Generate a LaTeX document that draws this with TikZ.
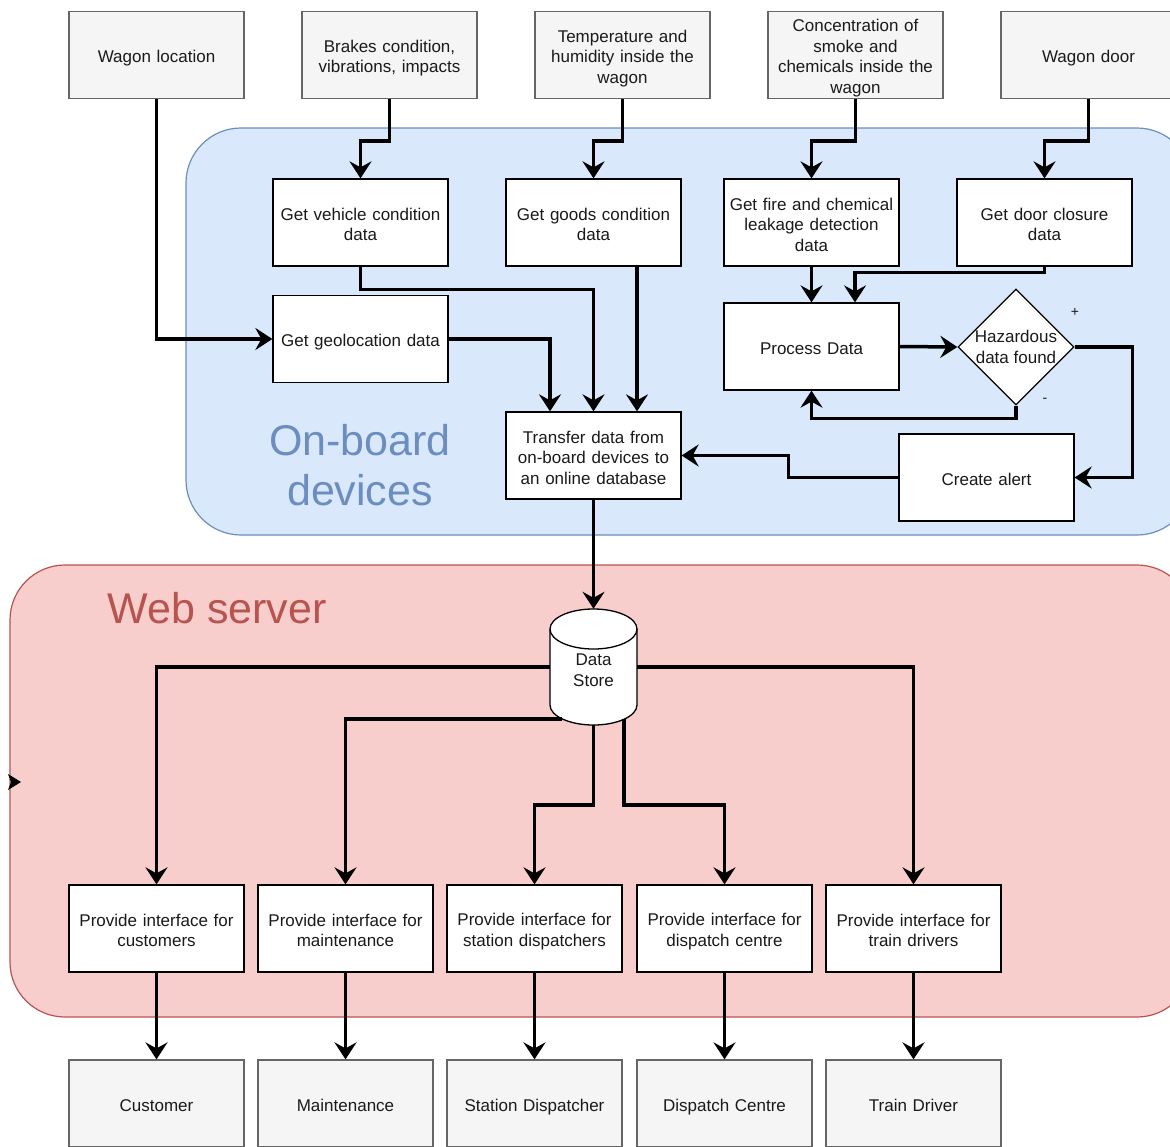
\documentclass[tikz,border=0pt]{standalone}
\usepackage{fontspec}
\setmainfont{Liberation Sans}
\usetikzlibrary{arrows.meta,shapes.geometric}
\definecolor{obfill}{HTML}{DAE8FC}
\definecolor{obline}{HTML}{6C8EBF}
\definecolor{wsfill}{HTML}{F8CECC}
\definecolor{wsline}{HTML}{B85450}
\definecolor{srcfill}{HTML}{F5F5F5}
\definecolor{srcline}{HTML}{666666}
\definecolor{ink}{HTML}{1A1A1A}

\begin{document}
\begin{tikzpicture}[x=1pt,y=-1pt,
  plain text/.style={text=ink, font=\fontsize{17pt}{20.5pt}\selectfont},
  label text/.style={plain text,
    execute at begin node=\rule{0pt}{19pt},
    execute at end node=\rule[-3pt]{0pt}{3pt}},
  base/.style={rectangle, minimum width=175pt, minimum height=87pt,
    text width=172pt, align=center, inner sep=0pt, label text},
  srcbox/.style={base, fill=srcfill, draw=srcline, line width=1.2pt},
  procbox/.style={base, fill=white, draw=black, line width=1.3pt},
  decision/.style={diamond, aspect=1, minimum width=116pt, minimum height=116pt,
    inner sep=0pt, fill=white, draw=black, line width=1.3pt, align=center, plain text},
  flow/.style={line width=3.5pt, -{Stealth[length=17pt,width=22pt,inset=6pt]}},
  area/.style={line width=1.2pt, rounded corners=55pt},
  title/.style={font=\fontsize{43pt}{50pt}\selectfont, align=center},
  sign/.style={font=\fontsize{14pt}{16pt}\selectfont, text=ink, inner sep=0pt}
]
\useasboundingbox (0,0) rectangle (1170,1146);
\clip (0,0) rectangle (1170,1146);

% background areas
\draw[area, fill=obfill, draw=obline] (186,128) rectangle (1192,535);
\draw[area, fill=wsfill, draw=wsline] (10,565) rectangle (1192,1017);
\node[title, text=obline] (obtitle) at (360,465) {On-board\\devices};
\node[title, text=wsline] (wstitle) at (217,608) {Web server};

% stray arrow tip on the left edge
\fill[black] (8,774) -- (21,782) -- (8,790) -- (11,782) -- cycle;

% sources
\node[srcbox] (wloc)  at (156.5,55) {Wagon location};
\node[srcbox] (brake) at (389.5,55) {Brakes condition,\\vibrations, impacts};
\node[srcbox] (temp)  at (622.5,55) {Temperature and\\humidity inside the\\wagon};
\node[srcbox] (smoke) at (855.5,55) {Concentration of\\smoke and\\chemicals inside the\\wagon};
\node[srcbox] (wdoor) at (1088.5,55) {Wagon door};

% on-board processes
\node[procbox] (veh)   at (360.5,222.5) {Get vehicle condition\\data};
\node[procbox] (goods) at (593.5,222.5) {Get goods condition\\data};
\node[procbox] (fire)  at (811.5,222.5) {Get fire and chemical\\leakage detection\\data};
\node[procbox] (door)  at (1044.5,222.5) {Get door closure\\data};
\node[procbox] (geo)   at (360.5,339) {Get geolocation data};
\node[procbox] (proc)  at (811.5,346.5) {Process Data};
\node[decision] (haz)  at (1016,347) {Hazardous\\data found};
\node[procbox] (alert) at (986.5,477.5) {Create alert};
\node[procbox] (xfer)  at (593.5,455.5) {Transfer data from\\on-board devices to\\an online database};
\node[sign] (plus)  at (1075,312) {+};
\node[sign] (minus) at (1045,400) {-};

% data store cylinder
\filldraw[fill=white, draw=black, line width=1.3pt]
  (550,629) -- (550,705) arc(180:360:43.5pt and 20pt) -- (637,629)
  arc(0:180:43.5pt and 20pt) -- cycle;
\draw[black, line width=1.3pt] (550,629) arc(180:360:43.5pt and 20pt);
\node[minimum width=87pt, minimum height=116pt, inner sep=0pt] (store) at (593.5,667) {};
\node[align=center, inner sep=0pt, plain text] (storetext) at (593.5,670) {Data\\Store};
\coordinate (sleft) at (562,719);
\coordinate (sright) at (624,719);

% interfaces
\node[procbox] (icust)  at (156.5,928.5) {Provide interface for\\customers};
\node[procbox] (imaint) at (345.5,928.5) {Provide interface for\\maintenance};
\node[procbox] (isd)    at (534.5,928.5) {Provide interface for\\station dispatchers};
\node[procbox] (idc)    at (724.5,928.5) {Provide interface for\\dispatch centre};
\node[procbox] (itd)    at (913.5,928.5) {Provide interface for\\train drivers};

% users
\node[srcbox] (ucust)  at (156.5,1103.5) {Customer};
\node[srcbox] (umaint) at (345.5,1103.5) {Maintenance};
\node[srcbox] (usd)    at (534.5,1103.5) {Station Dispatcher};
\node[srcbox] (udc)    at (724.5,1103.5) {Dispatch Centre};
\node[srcbox] (utd)    at (913.5,1103.5) {Train Driver};

% source connectors
\draw[flow] (wloc.south) |- (geo.west);
\draw[flow] (brake.south) -- ++(0,42) -| (veh.north);
\draw[flow] (temp.south) -- ++(0,42) -| (goods.north);
\draw[flow] (smoke.south) -- ++(0,42) -| (fire.north);
\draw[flow] (wdoor.south) -- ++(0,42) -| (door.north);

% on-board connectors
\draw[flow] (veh.south) -- ++(0,23) -| (xfer.north);
\draw[flow] ([xshift=43.5pt]goods.south) -- ([xshift=43.5pt]xfer.north);
\draw[flow] (geo.east) -| ([xshift=-43.5pt]xfer.north);
\draw[flow] (fire.south) -- (proc.north);
\draw[flow] (door.south) -- ++(0,6) -| ([xshift=43.5pt]proc.north);
\draw[flow] (proc.east) -- (haz.west);
\draw[flow] (haz.east) -- ++(58,0) |- (alert.east);
\draw[flow] (haz.south) -- ++(0,13) -| (proc.south);
\draw[flow] (alert.west) -- ++(-110,0) |- (xfer.east);
\draw[flow] (xfer.south) -- (store.north);

% web server connectors
\draw[flow] (store.west) -| (icust.north);
\draw[flow] (sleft) -| (imaint.north);
\draw[flow] (store.south) -- ++(0,80) -| (isd.north);
\draw[flow] (sright) -- ++(0,86) -| (idc.north);
\draw[flow] (store.east) -| (itd.north);

\draw[flow] (icust.south) -- (ucust.north);
\draw[flow] (imaint.south) -- (umaint.north);
\draw[flow] (isd.south) -- (usd.north);
\draw[flow] (idc.south) -- (udc.north);
\draw[flow] (itd.south) -- (utd.north);
\end{tikzpicture}
\end{document}
